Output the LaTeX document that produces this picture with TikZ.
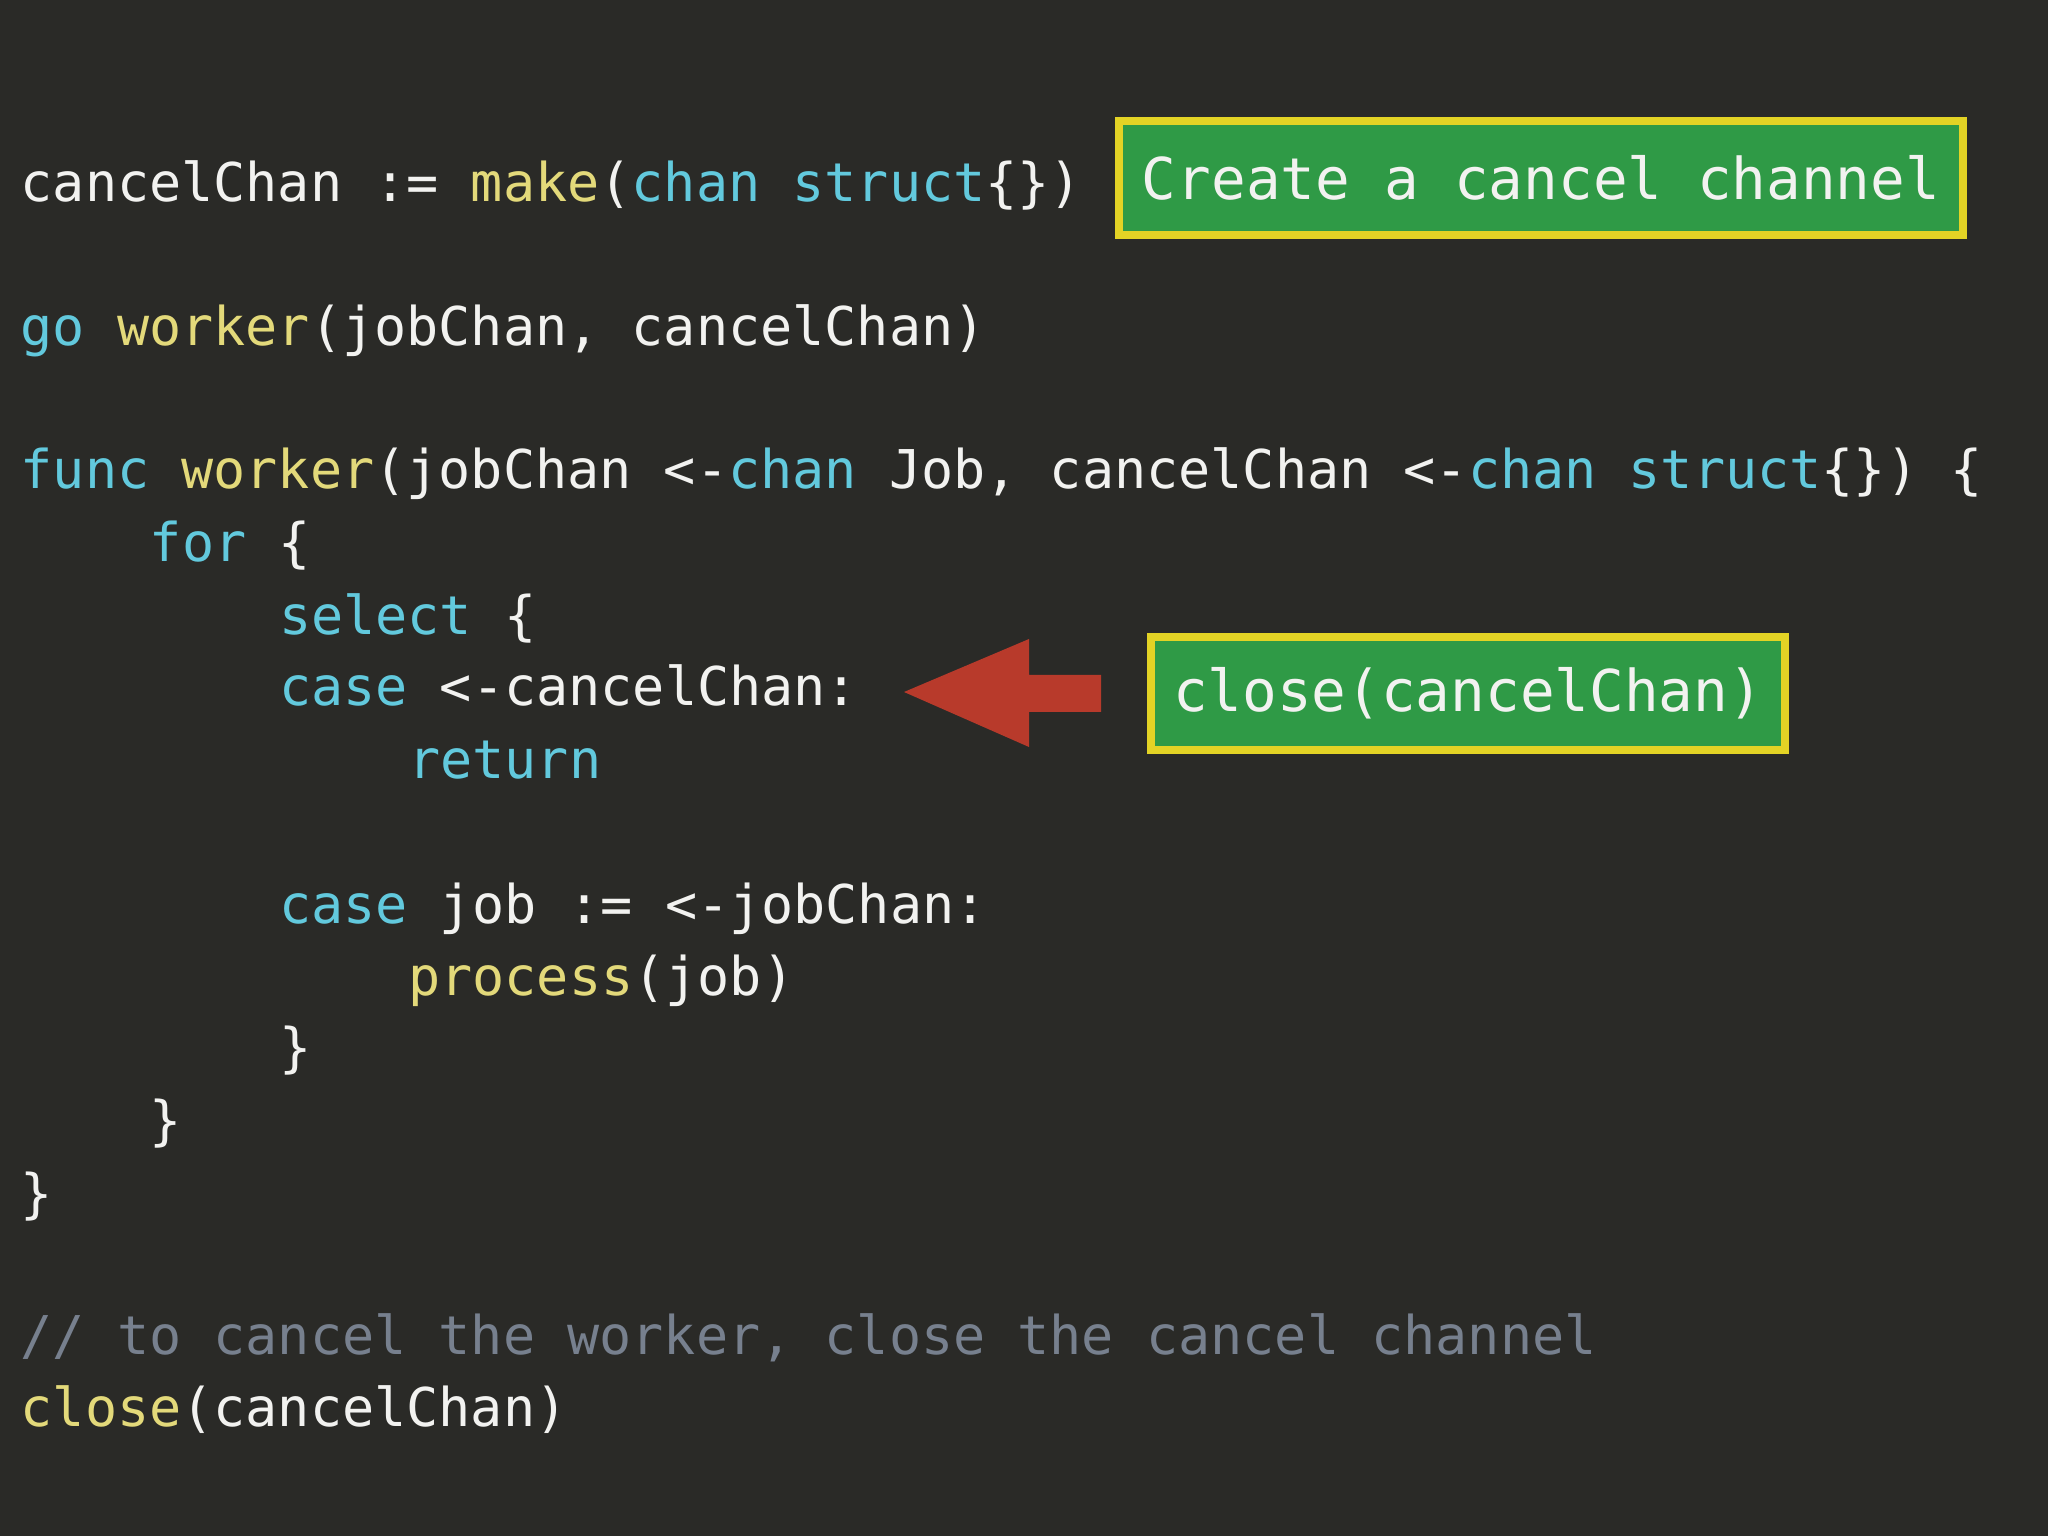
\documentclass[tikz,border=0pt]{standalone}
\usepackage{fontspec}
\setmonofont{DejaVu Sans Mono}
\definecolor{bg}{HTML}{2A2A27}
\definecolor{kw}{HTML}{62C9DD}
\definecolor{fn}{HTML}{E3D97A}
\definecolor{tx}{HTML}{F2F2F0}
\definecolor{cm}{HTML}{77808E}
\definecolor{gbox}{HTML}{2F9A46}
\definecolor{ybord}{HTML}{E3D325}
\definecolor{redarr}{HTML}{B83A2B}
\newcommand{\kwd}[1]{\textcolor{kw}{#1}}
\newcommand{\fnc}[1]{\textcolor{fn}{#1}}
\tikzset{
  code/.style={anchor=base west, inner sep=0pt, text=tx, font=\ttfamily\fontsize{15.2}{18}\selectfont},
  note/.style={draw=ybord, line width=2.2pt, fill=gbox, text=tx, inner sep=0pt,
     font=\ttfamily\fontsize{16.4}{19}\selectfont},
}
\begin{document}
\begin{tikzpicture}[x=1cm,y=1cm]
\fill[bg] (0,0) rectangle (20.48,-15.36);
\useasboundingbox (0,0) rectangle (20.48,-15.36);
\def\cw{0.323}
\node[code] (l1) at (0.2,-2.02) {cancelChan := \fnc{make}(\kwd{chan struct}\{\})};
\node[code] (l2) at (0.2,-3.46) {\kwd{go} \fnc{worker}(jobChan, cancelChan)};
\node[code] (l3) at (0.2,-4.89) {\kwd{func} \fnc{worker}(jobChan <-\kwd{chan} Job, cancelChan <-\kwd{chan struct}\{\}) \{};
\node[code] (l4) at (0.2+4*\cw,-5.61) {\kwd{for} \{};
\node[code] (l5) at (0.2+8*\cw,-6.35) {\kwd{select} \{};
\node[code] (l6) at (0.2+8*\cw,-7.06) {\kwd{case} <-cancelChan:};
\node[code] (l7) at (0.2+12*\cw,-7.79) {\kwd{return}};
\node[code] (l8) at (0.2+8*\cw,-9.23) {\kwd{case} job := <-jobChan:};
\node[code] (l9) at (0.2+12*\cw,-9.95) {\fnc{process}(job)};
\node[code] (l10) at (0.2+8*\cw,-10.67) {\}};
\node[code] (l11) at (0.2+4*\cw,-11.40) {\}};
\node[code] (l12) at (0.2,-12.12) {\}};
\node[code,text=cm] (l13) at (0.2,-13.54) {// to cancel the worker, close the cancel channel};
\node[code] (l14) at (0.2,-14.26) {\fnc{close}(cancelChan)};
\node[note, minimum width=8.44cm, minimum height=1.14cm] (n1) at (15.41,-1.78) {Create a cancel channel};
\node[note, minimum width=6.34cm, minimum height=1.13cm] (n2) at (14.68,-6.935) {close(cancelChan)};
\fill[redarr] (9.04,-6.92) -- (10.29,-6.39) -- (10.29,-6.75) -- (11.01,-6.75)
  -- (11.01,-7.12) -- (10.29,-7.12) -- (10.29,-7.47) -- cycle;
\end{tikzpicture}
\end{document}
